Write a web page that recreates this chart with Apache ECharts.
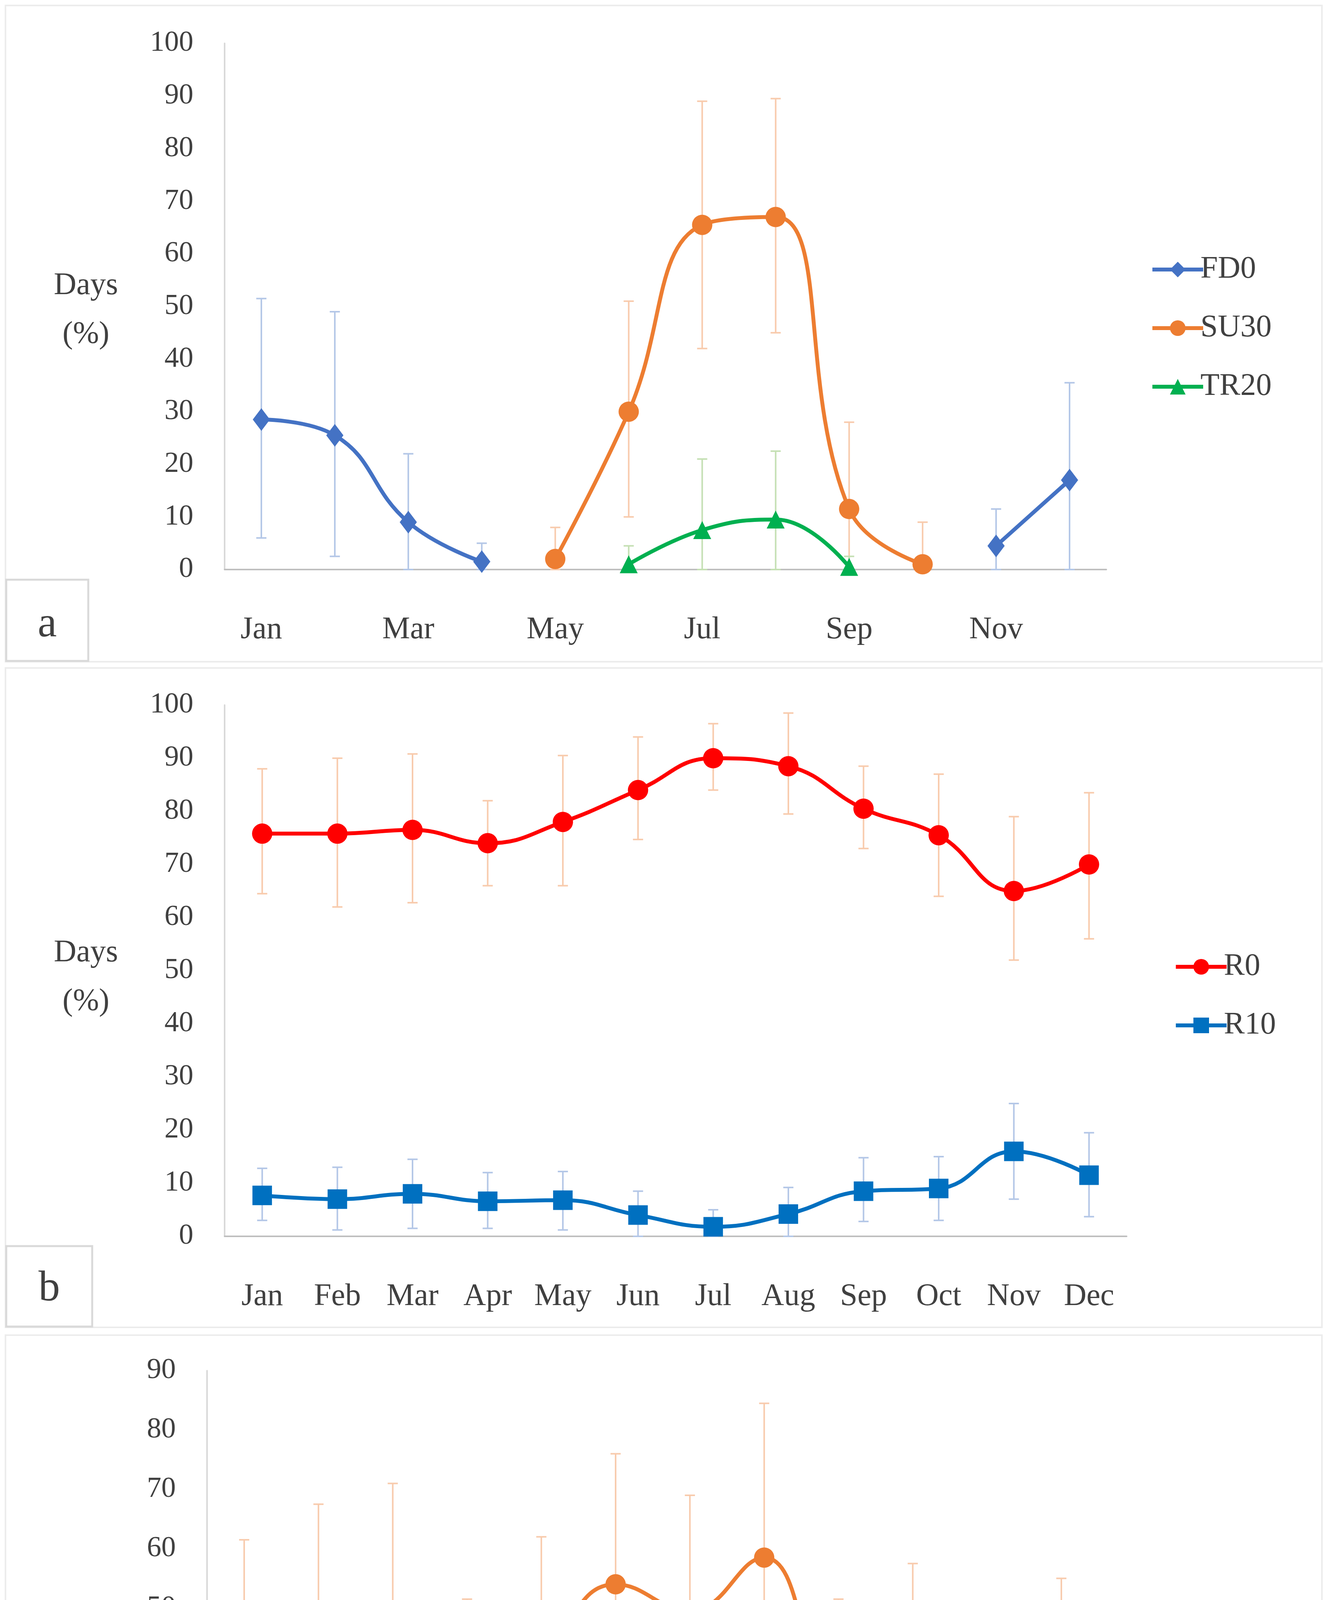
<!DOCTYPE html>
<html><head><meta charset="utf-8">
<script src="https://cdn.jsdelivr.net/npm/echarts@6/dist/echarts.min.js"></script>
<style>html,body{margin:0;padding:0;background:#fff}#c{width:3397px;height:5124px}</style>
</head><body><div id="c"></div>
<script>
const months = ['Jan','Feb','Mar','Apr','May','Jun','Jul','Aug','Sep','Oct','Nov','Dec'];
// Panel a
const fd0 = [28.5,25.5,9,1.5,null,null,null,null,null,null,4.5,17];
const fd0Lo = [6,2.5,0,0,null,null,null,null,null,null,0,0];
const fd0Hi = [51.5,49,22,5,null,null,null,null,null,null,11.5,35.5];
const su30 = [null,null,null,null,2,30,65.5,67,11.5,1,null,null];
const su30Lo = [null,null,null,null,0,10,42,45,0,0,null,null];
const su30Hi = [null,null,null,null,8,51,89,89.5,28,9,null,null];
const tr20 = [null,null,null,null,null,1,7.5,9.5,0.5,null,null,null];
const tr20Lo = [null,null,null,null,null,0,0,0,0,null,null,null];
const tr20Hi = [null,null,null,null,null,4.5,21,22.5,2.5,null,null,null];
// Panel b
const r0 = [75.8,75.8,76.5,74,78,84,90,88.5,80.5,75.5,65,70];
const r0Lo = [64.5,62,62.8,66,66,74.7,84,79.5,73,64,52,56];
const r0Hi = [88,90,90.8,82,90.5,94,96.5,98.5,88.5,87,79,83.5];
const r10 = [7.7,7,8,6.6,6.8,4,1.8,4.2,8.5,9,16,11.5];
const r10Lo = [3,1.2,1.5,1.5,1.2,0,0,0,2.8,3,7,3.7];
const r10Hi = [12.8,13,14.5,12,12.2,8.5,5,9.2,14.8,15,25,19.5];
// Panel c
const cdd = [42.5,43,47.5,35,42.5,54,49.5,58.5,38,39.5,30.5,36.5];
const cddLo = [24,19.5,23.5,19.5,23,32.5,31,33.5,25,22,19,18.5];
const cddHi = [61.5,67.5,71,51.5,62,76,69,84.5,51.5,57.5,42,55];
const cwd = [10.8,12,10,10.6,8,7.3,4.8,5,8.5,9.8,12.3,12.7];
const cwdLo = [5.5,5,3.2,7,3.8,1.4,1.6,2,4.5,4.5,6.3,5.5];
const cwdHi = [16.5,18.7,16.8,14.3,12.3,13.2,8,8.5,12.5,15.2,18.5,20];

const FONT = 'Liberation Serif';
const grids = [
  {left:575, right:3397-2832, top:111, height:1458-111},
  {left:575, right:3397-2884, top:1805, height:3165-1805},
  {left:530, right:3397-2812, top:3509, height:4876-3509}
];
function xAx(i){return {type:'category',gridIndex:i,data:months,boundaryGap:true,
  axisLine:{lineStyle:{color:'#bfbfbf',width:4}},axisTick:{show:false},
  axisLabel:{color:'#404040',fontSize:80,fontFamily:FONT,margin:115}};}
function yAx(i,max){return {type:'value',gridIndex:i,min:0,max:max,interval:10,
  axisLine:{show:true,lineStyle:{color:'#d9d9d9',width:4}},axisTick:{show:false},splitLine:{show:false},
  axisLabel:{color:'#404040',fontSize:74,fontFamily:FONT,margin:80}};}
function errs(name,gi,lo,hi,color){
  const d=[];lo.forEach((v,i)=>{if(v!=null)d.push([i,v,hi[i]]);});
  return {type:'custom',name:name+'_err',xAxisIndex:gi,yAxisIndex:gi,z:1,silent:true,data:d,
    renderItem:function(p,api){
      const a=api.coord([api.value(0),api.value(1)]),b=api.coord([api.value(0),api.value(2)]);
      const st={stroke:color,lineWidth:4};const w=13;
      return {type:'group',children:[
        {type:'line',shape:{x1:a[0],y1:a[1],x2:b[0],y2:b[1]},style:st},
        {type:'line',shape:{x1:a[0]-w,y1:a[1],x2:a[0]+w,y2:a[1]},style:st},
        {type:'line',shape:{x1:b[0]-w,y1:b[1],x2:b[0]+w,y2:b[1]},style:st}]};
    }};
}
function line(name,gi,data,color,symbol,size){
  return {type:'line',name:name,xAxisIndex:gi,yAxisIndex:gi,data:data,smooth:0.45,z:3,
    symbol:symbol,symbolSize:size,connectNulls:false,
    lineStyle:{color:color,width:10},itemStyle:{color:color}};
}
const dia=[44,58];
function legend(names,top,left){return {data:names,orient:'vertical',left:left,top:top,itemGap:70,
  itemWidth:130,itemHeight:50,lineStyle:{width:10},
  textStyle:{fontSize:80,fontFamily:FONT,color:'#404040',padding:[0,0,0,-12]}};}
function box(x,y,w,h){return {type:'rect',shape:{x:x,y:y,width:w,height:h},style:{fill:'#fff',stroke:'#d9d9d9',lineWidth:5},z:10};}
function txt(x,y,s,size,align){return {type:'text',x:x,y:y,style:{text:s,fontSize:size,fontFamily:FONT,fill:'#404040',textAlign:align||'center',textVerticalAlign:'middle'},z:11};}
const chart=echarts.init(document.getElementById('c'));
chart.setOption({
  backgroundColor:'#fff',animation:false,
  grid:grids,
  xAxis:[xAx(0),xAx(1),xAx(2)],
  yAxis:[yAx(0,100),yAx(1,100),yAx(2,90)],
  legend:[legend(['FD0','SU30','TR20'],645,2940),legend(['R0','R10'],2430,3000),legend(['CDD','CWD'],4135,2930)],
  series:[
    errs('FD0',0,fd0Lo,fd0Hi,'#b4c7e7'),errs('SU30',0,su30Lo,su30Hi,'#f8cbad'),errs('TR20',0,tr20Lo,tr20Hi,'#c5e0b4'),
    line('FD0',0,fd0,'#4472c4','diamond',dia),line('SU30',0,su30,'#ed7d31','circle',52),line('TR20',0,tr20,'#00b050','triangle',46),
    errs('R0',1,r0Lo,r0Hi,'#f8cbad'),errs('R10',1,r10Lo,r10Hi,'#b4c7e7'),
    line('R0',1,r0,'#ff0000','circle',52),line('R10',1,r10,'#0070c0','rect',50),
    errs('CDD',2,cddLo,cddHi,'#f8cbad'),errs('CWD',2,cwdLo,cwdHi,'#b4c7e7'),
    line('CDD',2,cdd,'#ed7d31','circle',52),line('CWD',2,cwd,'#0070c0','diamond',dia)
  ],
  graphic:[
    {type:'rect',shape:{x:14,y:14,width:3370,height:1680},style:{fill:null,stroke:'#ececec',lineWidth:4},z:0},
    {type:'rect',shape:{x:14,y:1710,width:3370,height:1688},style:{fill:null,stroke:'#ececec',lineWidth:4},z:0},
    {type:'rect',shape:{x:14,y:3418,width:3370,height:1698},style:{fill:null,stroke:'#ececec',lineWidth:4},z:0},
    txt(220,732,'Days',80),txt(220,857,'(%)',80),
    txt(220,2440,'Days',80),txt(220,2565,'(%)',80),
    txt(220,4148,'Days',80),txt(220,4273,'(%)',80),
    box(16,1484,210,208),txt(121,1600,'a',110),
    box(16,3190,220,206),txt(126,3300,'b',110),
    box(16,4900,210,214),txt(121,5010,'c',110)
  ]
});
</script></body></html>
